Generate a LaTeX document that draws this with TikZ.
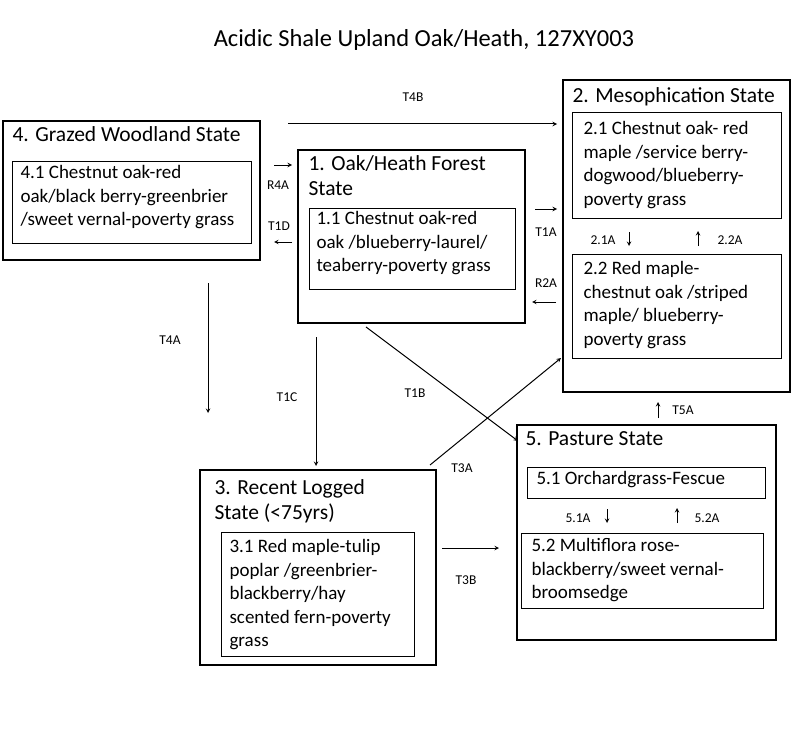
\documentclass[tikz,border=0pt]{standalone}
\usepackage{fontspec}
\setmainfont{Carlito}
\usetikzlibrary{positioning}
\tikzset{
  state/.style={draw, line width=2.2pt},
  ttl/.style={anchor=north west, align=left, font=\fontsize{21.5}{25}\selectfont},
  txt/.style={anchor=north west, align=left, font=\fontsize{19}{23.5}\selectfont},
  lbl/.style={font=\fontsize{13.5}{15}\selectfont},
  arr/.style={->, line width=1pt, >=stealth}
}
\begin{document}
\begin{tikzpicture}[x=1pt,y=-1pt]
\useasboundingbox (0,0) rectangle (800,749);
\node (title) at (424,40) {\fontsize{24.5}{28}\selectfont Acidic Shale Upland Oak/Heath, 127XY003};

% state boxes
\draw[state] (3,121) rectangle (260,260);
\node[ttl] (t4) at (9,123) {4. Grazed Woodland State};
\draw[line width=0.8pt] (12,161) rectangle (251,243);
\node[txt] (c41) at (17,162) {4.1 Chestnut oak-red\\oak/black berry-greenbrier\\/sweet vernal-poverty grass};

\draw[state] (298,150) rectangle (525,323);
\node[ttl] (t1) at (305,152) {1. Oak/Heath Forest\\State};
\draw[line width=0.8pt] (309,208) rectangle (515,289);
\node[txt] (c11) at (313,208) {1.1 Chestnut oak-red\\oak /blueberry-laurel/\\teaberry-poverty grass};

\draw[state] (563,80) rectangle (790,392);
\node[ttl] (t2) at (569,84) {2. Mesophication State};
\draw[line width=0.8pt] (572,112) rectangle (781,218);
\node[txt] (c21) at (580,118) {2.1 Chestnut oak- red\\maple /service berry-\\dogwood/blueberry-\\poverty grass};
\draw[line width=0.8pt] (572,254) rectangle (781,358);
\node[txt] (c22) at (580,258) {2.2 Red maple-\\chestnut oak /striped\\maple/ blueberry-\\poverty grass};

\draw[state] (200,470) rectangle (436,665);
\node[ttl] (t3) at (211,476) {3. Recent Logged\\State (<75yrs)};
\draw[line width=0.8pt] (221,532) rectangle (414,656);
\node[txt] (c31) at (226,536) {3.1 Red maple-tulip\\poplar /greenbrier-\\blackberry/hay\\scented fern-poverty\\grass};

\draw[state] (517,425) rectangle (776,640);
\node[ttl] (t5) at (522,428) {5. Pasture State};
\draw[line width=0.8pt] (527,467) rectangle (765,498);
\node[txt] (c51) at (533,468) {5.1 Orchardgrass-Fescue};
\draw[line width=0.8pt] (521,533) rectangle (763,608);
\node[txt] (c52) at (528,535) {5.2 Multiflora rose-\\blackberry/sweet vernal-\\broomsedge};

% transitions
\coordinate (a1) at (288,124); \coordinate (a2) at (557,124);
\draw[arr] (a1) -- (a2); \node[lbl] (T4B) at (413,97) {T4B};
\coordinate (b1) at (274,165); \coordinate (b2) at (292,165);
\draw[arr] (b1) -- (b2); \node[lbl] (R4A) at (278,185) {R4A};
\coordinate (c1) at (292,242); \coordinate (c2) at (274,242);
\draw[arr] (c1) -- (c2); \node[lbl] (T1D) at (279,226) {T1D};
\coordinate (d1) at (535,209); \coordinate (d2) at (557,209);
\draw[arr] (d1) -- (d2); \node[lbl] (T1A) at (546,232) {T1A};
\coordinate (e1) at (556,302); \coordinate (e2) at (532,302);
\draw[arr] (e1) -- (e2); \node[lbl] (R2A) at (546,283) {R2A};
\coordinate (f1) at (629,232); \coordinate (f2) at (629,246);
\draw[arr] (f1) -- (f2); \node[lbl] (L21A) at (603,240) {2.1A};
\coordinate (g1) at (698,246); \coordinate (g2) at (698,231);
\draw[arr] (g1) -- (g2); \node[lbl] (L22A) at (730,240) {2.2A};
\coordinate (h1) at (208,283); \coordinate (h2) at (208,413);
\draw[arr] (h1) -- (h2); \node[lbl] (T4A) at (170,340) {T4A};
\coordinate (i1) at (316,337); \coordinate (i2) at (316,466);
\draw[arr] (i1) -- (i2); \node[lbl] (T1C) at (287,397) {T1C};
\coordinate (j1) at (366,327); \coordinate (j2) at (518,441);
\draw[arr] (j1) -- (j2); \node[lbl] (T1B) at (415,393) {T1B};
\coordinate (k1) at (430,465); \coordinate (k2) at (561,358);
\draw[arr] (k1) -- (k2); \node[lbl] (T3A) at (462,468) {T3A};
\coordinate (l1) at (658,418); \coordinate (l2) at (658,402);
\draw[arr] (l1) -- (l2); \node[lbl] (T5A) at (683,410) {T5A};
\coordinate (m1) at (607,509); \coordinate (m2) at (607,523);
\draw[arr] (m1) -- (m2); \node[lbl] (L51A) at (578,518) {5.1A};
\coordinate (n1) at (677,523); \coordinate (n2) at (677,508);
\draw[arr] (n1) -- (n2); \node[lbl] (L52A) at (707,518) {5.2A};
\coordinate (o1) at (442,548); \coordinate (o2) at (499,548);
\draw[arr] (o1) -- (o2); \node[lbl] (T3B) at (466,580) {T3B};
\end{tikzpicture}
\end{document}
